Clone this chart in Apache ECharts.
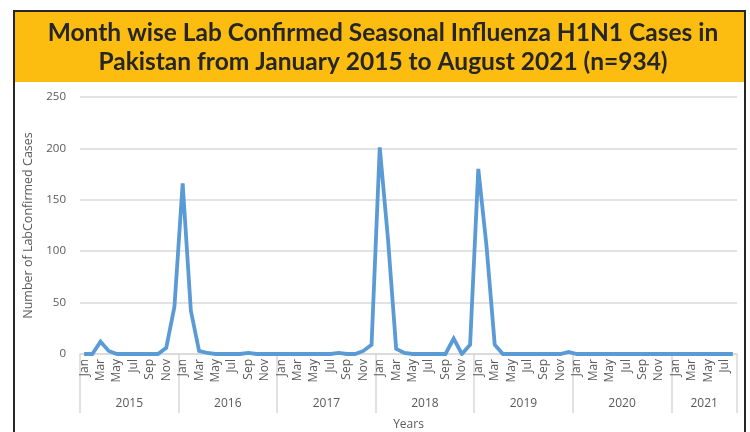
<!DOCTYPE html>
<html><head><meta charset="utf-8">
<script src="https://cdn.jsdelivr.net/npm/echarts@6/dist/echarts.min.js"></script>
<style>html,body{margin:0;padding:0;background:#fff}#c{width:750px;height:432px}</style>
</head><body><div id="c"></div>
<script>
const monthNames = ['Jan','Feb','Mar','Apr','May','Jun','Jul','Aug','Sep','Oct','Nov','Dec'];
const years = ['2015','2016','2017','2018','2019','2020','2021'];
const yearMonths = [12,12,12,12,12,12,8];
const cases2015 = [0,0,12,3,0,0,0,0,0,0,6,46];
const cases2016 = [166,42,3,1,0,0,0,0,1,0,0,0];
const cases2017 = [0,0,0,0,0,0,0,1,0,0,3,9];
const cases2018 = [201,112,5,1,0,0,0,0,0,15,0,9];
const cases2019 = [180,105,9,0,0,0,0,0,0,0,0,2];
const cases2020 = [0,0,0,0,0,0,0,0,0,0,0,0];
const cases2021 = [0,0,0,0,0,0,0,0];
const yTicks = [0,50,100,150,200,250];

const categories = [];
years.forEach((y,i)=>{ for(let m=0;m<yearMonths[i];m++) categories.push(monthNames[m]+' '+y); });
const values = [].concat(cases2015,cases2016,cases2017,cases2018,cases2019,cases2020,cases2021);
const boundaries = [0]; const centers = [];
yearMonths.forEach(n=>{ const s=boundaries[boundaries.length-1]; centers.push(s+n/2); boundaries.push(s+n); });
const total = categories.length;

const chart = echarts.init(document.getElementById('c'));
const FONT = '"Open Sans", "Noto Sans", sans-serif';
chart.setOption({
  animation:false,
  textStyle:{fontFamily:FONT},
  graphic:[
    {type:'rect', shape:{x:14,y:11,width:731,height:440}, style:{fill:'none', stroke:'#262626', lineWidth:2}, z:100},
    {type:'rect', shape:{x:15,y:12,width:729,height:70}, style:{fill:'#FDBD10'}, z:1},
    {type:'text', x:383, y:33, style:{text:'Month wise Lab Confirmed Seasonal Influenza H1N1 Cases in', fill:'#262626', font:'bold 24.5px Lato, "Open Sans", sans-serif', align:'center', verticalAlign:'middle'}, z:2},
    {type:'text', x:383, y:62, style:{text:'Pakistan from January 2015 to August 2021 (n=934)', fill:'#262626', font:'bold 24.5px Lato, "Open Sans", sans-serif', align:'center', verticalAlign:'middle'}, z:2}
  ],
  grid:{left:80, right:13, top:97, bottom:78, outerBoundsMode:'none', containLabel:false},
  xAxis:[
    {type:'category', data:categories, boundaryGap:true,
     axisLine:{lineStyle:{color:'#d9d9d9', width:1.5}},
     axisTick:{show:false},
     axisLabel:{interval:1, rotate:90, margin:5, color:'#595959', fontSize:12, fontFamily:FONT,
       formatter:v=>v.split(' ')[0]}},
    {type:'value', min:0, max:total, position:'bottom',
     axisLine:{show:false}, splitLine:{show:false},
     axisTick:{show:true, customValues:boundaries, length:59, lineStyle:{color:'#d9d9d9', width:1.5}},
     axisLabel:{customValues:centers, margin:44, color:'#595959', fontSize:12, fontFamily:FONT,
       formatter:v=>{const i=centers.indexOf(v); return i>=0?years[i]:'';}},
     name:'Years', nameLocation:'middle', nameGap:65, nameTextStyle:{color:'#595959', fontSize:12, fontFamily:FONT}}
  ],
  yAxis:{type:'value', min:yTicks[0], max:yTicks[yTicks.length-1], interval:50,
    axisLine:{show:false}, axisTick:{show:false},
    splitLine:{lineStyle:{color:'#d9d9d9', width:1.5}},
    axisLabel:{color:'#595959', fontSize:11.5, margin:14, fontFamily:FONT},
    name:'Number of LabConfirmed Cases', nameLocation:'middle', nameGap:42, nameRotate:90,
    nameTextStyle:{color:'#595959', fontSize:12.5, fontFamily:FONT}},
  series:[{type:'line', data:values, xAxisIndex:0, showSymbol:false, symbol:'none',
    lineStyle:{color:'#5B9BD5', width:3.8, join:'miter'}, itemStyle:{color:'#5B9BD5'}}]
});
</script></body></html>
